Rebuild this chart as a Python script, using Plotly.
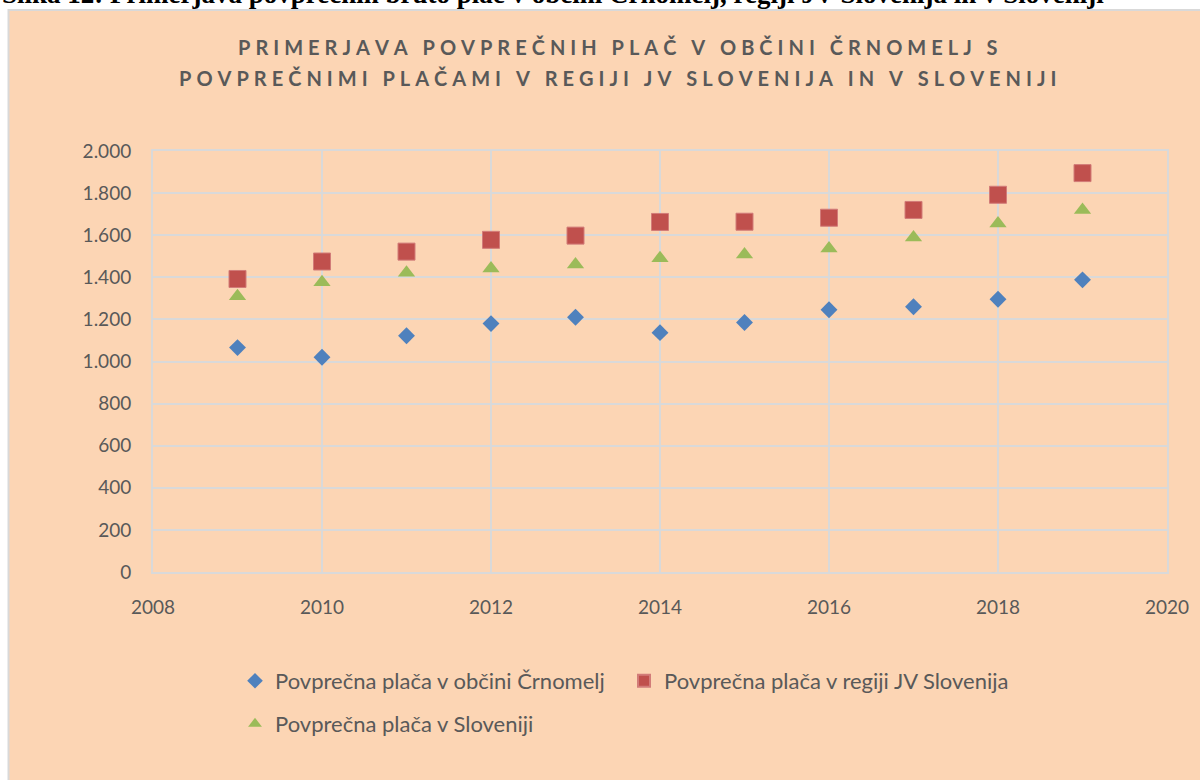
import plotly.graph_objects as go

# ── Data ───────────────────────────────────────────────────────────────────────
years = [2009, 2010, 2011, 2012, 2013, 2014, 2015, 2016, 2017, 2018, 2019]
crnomelj = [1066, 1020, 1122, 1180, 1210, 1137, 1185, 1246, 1260, 1296, 1388]
jv_slovenija = [1392, 1475, 1522, 1578, 1598, 1663, 1664, 1683, 1720, 1792, 1895]
slovenija = [1310, 1376, 1422, 1442, 1461, 1491, 1508, 1537, 1589, 1655, 1720]

series_names = [
    "Povprečna plača v občini Črnomelj",
    "Povprečna plača v regiji JV Slovenija",
    "Povprečna plača v Sloveniji",
]

caption = ("Slika 12: Primerjava povprečnih bruto plač v občini Črnomelj, "
           "regiji JV Slovenija in v Sloveniji")
title_lines = [
    "PRIMERJAVA POVPREČNIH PLAČ V OBČINI ČRNOMELJ S",
    "POVPREČNIMI PLAČAMI V REGIJI JV SLOVENIJA IN V SLOVENIJI",
]

# ── Styling ────────────────────────────────────────────────────────────────────
PEACH = "#FCD5B4"
GRID = "#D9D9D9"
TEXT = "#595959"
BLUE = "#4F81BD"
RED = "#C0504D"
GREEN = "#9BBB59"
FONT = "Lato, 'Open Sans', sans-serif"

W, H = 1200, 780
L, R, T, B = 153, 33, 151, 208
PW, PH = W - L - R, H - T - B


def px_x(x):
    return (x - L) / PW


def px_y(y):
    return (H - B - y) / PH


def spaced(s):
    # imitate Excel's letter-spaced title (four-per-em space between letters)
    return "\u2005".join(s)


fig = go.Figure()
fig.add_trace(go.Scatter(
    x=years, y=crnomelj, mode="markers", name=series_names[0],
    marker=dict(symbol="diamond", size=13, color=BLUE),
    legend="legend",
))
fig.add_trace(go.Scatter(
    x=years, y=jv_slovenija, mode="markers", name=series_names[1],
    marker=dict(symbol="square", size=17, color=RED,
                line=dict(color="#D27C79", width=1)),
    legend="legend",
))
fig.add_trace(go.Scatter(
    x=years, y=slovenija, mode="markers", name=series_names[2],
    marker=dict(symbol="triangle-up", size=15, color=GREEN),
    legend="legend2",
))

axis_common = dict(
    showgrid=True, gridcolor=GRID, gridwidth=2,
    showline=True, linecolor=GRID, linewidth=2, mirror=True,
    zeroline=False, ticks="",
    tickfont=dict(family=FONT, size=19, color=TEXT),
)
fig.update_xaxes(range=[2008, 2020], dtick=2, ticklabelstandoff=17, **axis_common)
fig.update_yaxes(range=[0, 2000], dtick=200, separatethousands=True,
                 ticklabelstandoff=16, **axis_common)

legend_common = dict(
    orientation="h", xanchor="left", yanchor="middle",
    entrywidth=344, entrywidthmode="pixels", itemsizing="constant",
    font=dict(family=FONT, size=22, color=TEXT),
    bgcolor="rgba(0,0,0,0)",
)

fig.update_layout(
    width=W, height=H,
    margin=dict(l=L, r=R, t=T, b=B),
    paper_bgcolor="white",
    plot_bgcolor="rgba(0,0,0,0)",
    separators=",.",
    font=dict(family=FONT, color=TEXT),
    showlegend=True,
    legend=dict(x=px_x(235), y=px_y(681), **legend_common),
    legend2=dict(x=px_x(235), y=px_y(724), **legend_common),
    shapes=[dict(
        type="rect", xref="paper", yref="paper", layer="below",
        x0=px_x(8.5), x1=px_x(1240), y0=px_y(800), y1=px_y(10),
        fillcolor=PEACH, line=dict(color=GRID, width=2),
    )],
    annotations=[
        dict(text=spaced(title_lines[0]), x=px_x(618), y=px_y(47),
             xref="paper", yref="paper", xanchor="center", yanchor="middle",
             showarrow=False,
             font=dict(family=FONT, size=20, color=TEXT, weight="bold")),
        dict(text=spaced(title_lines[1]), x=px_x(617), y=px_y(78),
             xref="paper", yref="paper", xanchor="center", yanchor="middle",
             showarrow=False,
             font=dict(family=FONT, size=20, color=TEXT, weight="bold")),
        dict(text="<b>" + caption + "</b>", x=px_x(0), y=px_y(-6.5),
             xref="paper", yref="paper", xanchor="left", yanchor="middle",
             showarrow=False,
             font=dict(family="'Liberation Serif', 'Times New Roman', serif",
                       size=27, color="black")),
    ],
)

# drop the page's default body margin so the figure sits at the window corner
fig.write_html("out.html", config={"displayModeBar": False},
               post_script="document.body.style.margin = '0';")
